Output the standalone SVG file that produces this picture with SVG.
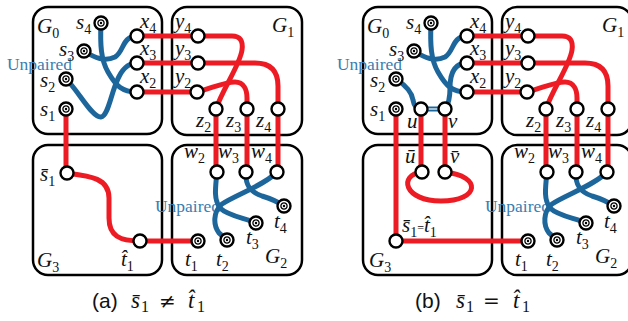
<svg xmlns="http://www.w3.org/2000/svg" xmlns:xlink="http://www.w3.org/1999/xlink" width="628" height="321" viewBox="0 0 628 321">
  <style>
    .box { fill: none; stroke: #000; stroke-width: 2.5; }
    .red { fill: none; stroke: #ED1C24; stroke-width: 5; }
    .blue { fill: none; stroke: #1D669C; stroke-width: 5; stroke-linecap: round; }
    .lbl { font-family: "Liberation Serif", "DejaVu Serif", serif; font-style: italic; font-size: 21px; fill: #111; }
    .sub { font-style: normal; font-size: 14px; }
    .unp { font-family: "Liberation Serif", "DejaVu Serif", serif; font-size: 17px; fill: #3A7DB0; }
    .cap { font-family: "Liberation Sans", Arial, sans-serif; font-size: 21px; fill: #111; }
    .math { font-family: "Liberation Serif", "DejaVu Serif", serif; font-style: italic; font-size: 23px; fill: #111; }
    .num { font-family: "Liberation Serif", serif; font-size: 16px; fill: #111; }
    .rel { font-family: "DejaVu Serif", serif; font-size: 20px; fill: #111; }
  </style>
  <defs>
    <!-- open port vertex -->
    <g id="port"><circle r="6.5" fill="#fff" stroke="#000" stroke-width="2.4"/></g>
    <!-- terminal vertex: ringed circle with a centre dot -->
    <g id="term">
      <circle r="6.5" fill="#fff" stroke="#000" stroke-width="2.4"/>
      <circle r="3.1" fill="none" stroke="#000" stroke-width="1.3"/>
      <circle r="1.2" fill="#000"/>
    </g>
  </defs>
  <rect width="628" height="321" fill="#fff"/>

  <!-- ============ panel (a) ============ -->
  <g id="panel-a">
    <g id="a-boxes">
      <rect class="box" x="33" y="7" width="129" height="127" rx="15"/>
      <rect class="box" x="172" y="7" width="130" height="128" rx="15"/>
      <rect class="box" x="33" y="145" width="129" height="130" rx="15"/>
      <rect class="box" x="172" y="145" width="130" height="130" rx="15"/>
    </g>
    <text class="unp" x="7" y="70" textLength="65" lengthAdjust="spacingAndGlyphs">Unpaired</text>
    <text class="unp" x="155" y="212" textLength="65" lengthAdjust="spacingAndGlyphs">Unpaired</text>

    <g id="a-connectors">
      <!-- blue: unpaired routing inside G0 and G2 -->
      <path class="blue" d="M84,51 C95,58 105,62 115,57 C124,52 122,36 137,36"/>
      <path class="blue" d="M101,23 C100,45 101,60 108,72 C116,86 122,92 137,92"/>
      <path class="blue" d="M66,79 C78,90 92,118 101,117 C110,116 112,80 125,68 C129,64 133,63 137,63"/>
      <path class="blue" d="M246,172 C245,185 250,192 262,196 C272,199 278,202 284,206"/>
      <path class="blue" d="M277,172 C265,185 235,195 222,204 C213,212 213,225 219,233 L227,240"/>
      <path class="blue" d="M217,172 C215,190 214,200 220,208 C228,216 245,218 256,223"/>
      <!-- red: paired routing -->
      <path class="red" d="M137,36 H198"/>
      <path class="red" d="M137,63 H198"/>
      <path class="red" d="M137,92 H197"/>
      <path class="red" d="M198,36 H232 Q244,36 242,50 C240,65 222,90 216,109"/>
      <path class="red" d="M198,63 H255 Q278,63 278,86 V109"/>
      <path class="red" d="M197,92 C212,88 225,82 235,82 C244,82 247,90 247,98 V109"/>
      <path class="red" d="M216,109 V172 M247,109 V172 M278,109 V172"/>
      <path class="red" d="M66,109 V173"/>
      <path class="red" d="M67,173 C90,176 109,178 109,198 V218 C109,236 120,241 140,241 H198"/>
    </g>

    <g id="a-G0">
      <text class="lbl" x="37" y="33">G<tspan class="sub" dy="5">0</tspan></text>
      <g id="a-s4"><use xlink:href="#term" x="101" y="23"/><text class="lbl" x="76" y="29">s<tspan class="sub" dy="5">4</tspan></text></g>
      <g id="a-s3"><use xlink:href="#term" x="84" y="51"/><text class="lbl" x="59" y="56">s<tspan class="sub" dy="5">3</tspan></text></g>
      <g id="a-s2"><use xlink:href="#term" x="66" y="79"/><text class="lbl" x="40" y="87">s<tspan class="sub" dy="5">2</tspan></text></g>
      <g id="a-s1"><use xlink:href="#term" x="66" y="109"/><text class="lbl" x="40" y="116">s<tspan class="sub" dy="5">1</tspan></text></g>
      <g id="a-x4"><use xlink:href="#port" x="137" y="36"/><text class="lbl" x="140" y="28">x<tspan class="sub" dy="5">4</tspan></text></g>
      <g id="a-x3"><use xlink:href="#port" x="137" y="63"/><text class="lbl" x="140" y="55">x<tspan class="sub" dy="5">3</tspan></text></g>
      <g id="a-x2"><use xlink:href="#port" x="137" y="92"/><text class="lbl" x="140" y="83">x<tspan class="sub" dy="5">2</tspan></text></g>
    </g>
    <g id="a-G1">
      <text class="lbl" x="272" y="32">G<tspan class="sub" dy="5">1</tspan></text>
      <g id="a-y4"><use xlink:href="#port" x="198" y="36"/><text class="lbl" x="175" y="28">y<tspan class="sub" dy="5">4</tspan></text></g>
      <g id="a-y3"><use xlink:href="#port" x="198" y="63"/><text class="lbl" x="175" y="55">y<tspan class="sub" dy="5">3</tspan></text></g>
      <g id="a-y2"><use xlink:href="#port" x="197" y="92"/><text class="lbl" x="175" y="83">y<tspan class="sub" dy="5">2</tspan></text></g>
      <g id="a-z2"><use xlink:href="#port" x="216" y="109"/><text class="lbl" x="196" y="127">z<tspan class="sub" dy="5">2</tspan></text></g>
      <g id="a-z3"><use xlink:href="#port" x="247" y="109"/><text class="lbl" x="226" y="127">z<tspan class="sub" dy="5">3</tspan></text></g>
      <g id="a-z4"><use xlink:href="#port" x="278" y="109"/><text class="lbl" x="256" y="127">z<tspan class="sub" dy="5">4</tspan></text></g>
    </g>
    <g id="a-G2">
      <text class="lbl" x="265" y="263">G<tspan class="sub" dy="5">2</tspan></text>
      <g id="a-w2"><use xlink:href="#port" x="217" y="172"/><text class="lbl" x="184" y="158">w<tspan class="sub" dy="5">2</tspan></text></g>
      <g id="a-w3"><use xlink:href="#port" x="246" y="172"/><text class="lbl" x="218" y="158">w<tspan class="sub" dy="5">3</tspan></text></g>
      <g id="a-w4"><use xlink:href="#port" x="277" y="172"/><text class="lbl" x="251" y="158">w<tspan class="sub" dy="5">4</tspan></text></g>
      <g id="a-t4"><use xlink:href="#term" x="284" y="206"/><text class="lbl" x="274" y="228">t<tspan class="sub" dy="5">4</tspan></text></g>
      <g id="a-t3"><use xlink:href="#term" x="256" y="223"/><text class="lbl" x="246" y="244">t<tspan class="sub" dy="5">3</tspan></text></g>
      <g id="a-t2"><use xlink:href="#term" x="227" y="240"/><text class="lbl" x="216" y="266">t<tspan class="sub" dy="5">2</tspan></text></g>
      <g id="a-t1"><use xlink:href="#term" x="198" y="241"/><text class="lbl" x="185" y="266">t<tspan class="sub" dy="5">1</tspan></text></g>
    </g>
    <g id="a-G3">
      <text class="lbl" x="37" y="267">G<tspan class="sub" dy="5">3</tspan></text>
      <g id="a-s1bar"><use xlink:href="#port" x="67" y="173"/><text class="lbl" x="40" y="181">s&#x0304;<tspan class="sub" dy="5">1</tspan></text></g>
      <g id="a-t1hat"><use xlink:href="#port" x="140" y="241"/><text class="lbl" x="121" y="266">t&#x0302;<tspan class="sub" dy="5">1</tspan></text></g>
    </g>
  </g>

  <!-- ============ panel (b) ============ -->
  <g id="panel-b">
    <g id="b-boxes">
      <rect class="box" x="363" y="7" width="129" height="127" rx="15"/>
      <rect class="box" x="502" y="7" width="130" height="128" rx="15"/>
      <rect class="box" x="363" y="145" width="129" height="130" rx="15"/>
      <rect class="box" x="502" y="145" width="130" height="130" rx="15"/>
    </g>
    <text class="unp" x="337" y="70" textLength="65" lengthAdjust="spacingAndGlyphs">Unpaired</text>
    <text class="unp" x="485" y="212" textLength="65" lengthAdjust="spacingAndGlyphs">Unpaired</text>

    <g id="b-connectors">
      <path class="blue" d="M414,51 C425,58 435,62 445,57 C454,52 452,36 467,36"/>
      <path class="blue" d="M431,23 C430,45 431,60 438,72 C446,86 452,92 467,92"/>
      <path class="blue" d="M396,79 C405,85 412,92 413,100 C414,106 416,109 421,109"/>
      <path class="blue" d="M445,109 C449,104 450,98 450,88 C450,72 455,63 467,63"/>
      <path d="M421,109 H445" stroke="#1D669C" stroke-width="5" fill="none"/>
      <path d="M421,109 H445" stroke="#fff" stroke-width="1.2" fill="none"/>
      <path class="blue" d="M576,172 C575,185 580,192 592,196 C602,199 608,202 614,206"/>
      <path class="blue" d="M607,172 C595,185 565,195 552,204 C543,212 543,225 549,233 L557,240"/>
      <path class="blue" d="M547,172 C545,190 544,200 550,208 C558,216 575,218 586,223"/>
      <path class="red" d="M467,36 H528"/>
      <path class="red" d="M467,63 H528"/>
      <path class="red" d="M467,92 H527"/>
      <path class="red" d="M528,36 H562 Q574,36 572,50 C570,65 552,90 546,109"/>
      <path class="red" d="M528,63 H585 Q608,63 608,86 V109"/>
      <path class="red" d="M527,92 C542,88 555,82 565,82 C574,82 577,90 577,98 V109"/>
      <path class="red" d="M546,109 V172 M577,109 V172 M608,109 V172"/>
      <path class="red" d="M396,109 V241 H528"/>
      <path class="red" d="M421,109 V172 M445,109 V172"/>
      <path class="red" d="M422,172 C398,175 404,201 441,201 C480,201 482,176 445,172"/>
    </g>

    <g id="b-G0">
      <text class="lbl" x="367" y="33">G<tspan class="sub" dy="5">0</tspan></text>
      <g id="b-s4"><use xlink:href="#term" x="431" y="23"/><text class="lbl" x="406" y="29">s<tspan class="sub" dy="5">4</tspan></text></g>
      <g id="b-s3"><use xlink:href="#term" x="414" y="51"/><text class="lbl" x="389" y="56">s<tspan class="sub" dy="5">3</tspan></text></g>
      <g id="b-s2"><use xlink:href="#term" x="396" y="79"/><text class="lbl" x="370" y="87">s<tspan class="sub" dy="5">2</tspan></text></g>
      <g id="b-s1"><use xlink:href="#term" x="396" y="109"/><text class="lbl" x="370" y="116">s<tspan class="sub" dy="5">1</tspan></text></g>
      <g id="b-u"><use xlink:href="#port" x="421" y="109"/><text class="lbl" x="407" y="128">u</text></g>
      <g id="b-v"><use xlink:href="#port" x="445" y="109"/><text class="lbl" x="448" y="128">v</text></g>
      <g id="b-x4"><use xlink:href="#port" x="467" y="36"/><text class="lbl" x="470" y="28">x<tspan class="sub" dy="5">4</tspan></text></g>
      <g id="b-x3"><use xlink:href="#port" x="467" y="63"/><text class="lbl" x="470" y="55">x<tspan class="sub" dy="5">3</tspan></text></g>
      <g id="b-x2"><use xlink:href="#port" x="467" y="92"/><text class="lbl" x="470" y="83">x<tspan class="sub" dy="5">2</tspan></text></g>
    </g>
    <g id="b-G1">
      <text class="lbl" x="602" y="32">G<tspan class="sub" dy="5">1</tspan></text>
      <g id="b-y4"><use xlink:href="#port" x="528" y="36"/><text class="lbl" x="505" y="28">y<tspan class="sub" dy="5">4</tspan></text></g>
      <g id="b-y3"><use xlink:href="#port" x="528" y="63"/><text class="lbl" x="505" y="55">y<tspan class="sub" dy="5">3</tspan></text></g>
      <g id="b-y2"><use xlink:href="#port" x="527" y="92"/><text class="lbl" x="505" y="83">y<tspan class="sub" dy="5">2</tspan></text></g>
      <g id="b-z2"><use xlink:href="#port" x="546" y="109"/><text class="lbl" x="526" y="127">z<tspan class="sub" dy="5">2</tspan></text></g>
      <g id="b-z3"><use xlink:href="#port" x="577" y="109"/><text class="lbl" x="556" y="127">z<tspan class="sub" dy="5">3</tspan></text></g>
      <g id="b-z4"><use xlink:href="#port" x="608" y="109"/><text class="lbl" x="586" y="127">z<tspan class="sub" dy="5">4</tspan></text></g>
    </g>
    <g id="b-G2">
      <text class="lbl" x="595" y="263">G<tspan class="sub" dy="5">2</tspan></text>
      <g id="b-w2"><use xlink:href="#port" x="547" y="172"/><text class="lbl" x="514" y="158">w<tspan class="sub" dy="5">2</tspan></text></g>
      <g id="b-w3"><use xlink:href="#port" x="576" y="172"/><text class="lbl" x="548" y="158">w<tspan class="sub" dy="5">3</tspan></text></g>
      <g id="b-w4"><use xlink:href="#port" x="607" y="172"/><text class="lbl" x="581" y="158">w<tspan class="sub" dy="5">4</tspan></text></g>
      <g id="b-t4"><use xlink:href="#term" x="614" y="206"/><text class="lbl" x="604" y="228">t<tspan class="sub" dy="5">4</tspan></text></g>
      <g id="b-t3"><use xlink:href="#term" x="586" y="223"/><text class="lbl" x="576" y="244">t<tspan class="sub" dy="5">3</tspan></text></g>
      <g id="b-t2"><use xlink:href="#term" x="557" y="240"/><text class="lbl" x="546" y="266">t<tspan class="sub" dy="5">2</tspan></text></g>
      <g id="b-t1"><use xlink:href="#term" x="528" y="241"/><text class="lbl" x="515" y="266">t<tspan class="sub" dy="5">1</tspan></text></g>
    </g>
    <g id="b-G3">
      <text class="lbl" x="369" y="267">G<tspan class="sub" dy="5">3</tspan></text>
      <g id="b-ubar"><use xlink:href="#port" x="422" y="172"/><text class="lbl" x="405" y="163">&#x016B;</text></g>
      <g id="b-vbar"><use xlink:href="#port" x="445" y="172"/><text class="lbl" x="450" y="163">v&#x0304;</text></g>
      <g id="b-s1t1"><use xlink:href="#port" x="396" y="241"/><text class="lbl" x="402" y="232">s&#x0304;<tspan class="sub" dy="5">1</tspan><tspan dy="-5" font-style="normal" font-size="12px">=</tspan>t&#x0302;<tspan class="sub" dy="5">1</tspan></text></g>
    </g>
  </g>

  <!-- captions -->
  <g id="caption-a">
    <text class="cap" x="92" y="308">(a)</text>
    <text class="math" x="131" y="308">s&#x0304;</text>
    <text class="num" x="141" y="312">1</text>
    <text class="rel" x="159" y="308">&#x2260;</text>
    <text class="math" x="188" y="308">t&#x0302;</text>
    <text class="num" x="197" y="312">1</text>
  </g>
  <g id="caption-b">
    <text class="cap" x="415" y="308">(b)</text>
    <text class="math" x="456" y="308">s&#x0304;</text>
    <text class="num" x="466" y="312">1</text>
    <text class="rel" x="483" y="308">=</text>
    <text class="math" x="513" y="308">t&#x0302;</text>
    <text class="num" x="522" y="312">1</text>
  </g>
</svg>
